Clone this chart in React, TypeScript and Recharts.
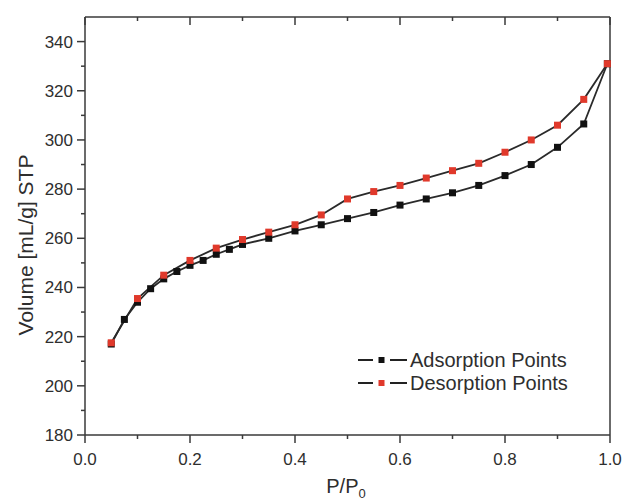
import { LineChart, Line, XAxis, YAxis, Label } from "recharts";

const adsP = [0.05, 0.075, 0.1, 0.125, 0.15, 0.175, 0.2, 0.225, 0.25, 0.275, 0.3, 0.35, 0.4, 0.45, 0.5, 0.55, 0.6, 0.65, 0.7, 0.75, 0.8, 0.85, 0.9, 0.95, 0.995];
const adsV = [217, 227, 234, 239.5, 243.5, 246.5, 249, 251, 253.5, 255.5, 257.5, 260, 263, 265.5, 268, 270.5, 273.5, 276, 278.5, 281.5, 285.5, 290, 297, 306.5, 331];
const desP = [0.995, 0.95, 0.9, 0.85, 0.8, 0.75, 0.7, 0.65, 0.6, 0.55, 0.5, 0.45, 0.4, 0.35, 0.3, 0.25, 0.2, 0.15, 0.1, 0.05];
const desV = [331, 316.5, 306, 300, 295, 290.5, 287.5, 284.5, 281.5, 279, 276, 269.5, 265.5, 262.5, 259.5, 256, 251, 245, 235.5, 217.5];

const xTicks = [0, 0.1, 0.2, 0.3, 0.4, 0.5, 0.6, 0.7, 0.8, 0.9, 1.0];
const yTicks = [180, 190, 200, 210, 220, 230, 240, 250, 260, 270, 280, 290, 300, 310, 320, 330, 340];

const seriesNames = ["Adsorption Points", "Desorption Points"];

const adsData = adsP.map((p, i) => ({ p, v: adsV[i] }));
const desData = desP.map((p, i) => ({ p, v: desV[i] }));

const AXIS = "#3a3a3a";
const TEXT = "#2e2e2e";
const FONT = "'Liberation Sans', Arial, sans-serif";
const COLORS = ["#111", "#e0392b"];

const isMajorX = (v: number) => Math.round(v * 10) % 2 === 0;
const isMajorY = (v: number) => v % 20 === 0;

function BottomTick({ x, y, payload }: any) {
  const major = isMajorX(payload.value);
  return (
    <g>
      <line x1={x} x2={x} y1={y} y2={y + (major ? 8 : 4)} stroke={AXIS} strokeWidth={1.5} />
      {major && (
        <text x={x} y={y + 30} textAnchor="middle" fontSize={17} fill={TEXT} fontFamily={FONT}>
          {payload.value.toFixed(1)}
        </text>
      )}
    </g>
  );
}

function TopTick({ x, y, payload }: any) {
  const major = isMajorX(payload.value);
  return <line x1={x} x2={x} y1={y} y2={y + (major ? 8 : 4)} stroke={AXIS} strokeWidth={1.5} />;
}

function LeftTick({ x, y, payload }: any) {
  const major = isMajorY(payload.value);
  return (
    <g>
      <line x1={x} x2={x - (major ? 8 : 4)} y1={y} y2={y} stroke={AXIS} strokeWidth={1.5} />
      {major && (
        <text x={x - 12} y={y + 6} textAnchor="end" fontSize={17} fill={TEXT} fontFamily={FONT}>
          {payload.value}
        </text>
      )}
    </g>
  );
}

function RightTick({ x, y, payload }: any) {
  const major = isMajorY(payload.value);
  return <line x1={x} x2={x - (major ? 8 : 4)} y1={y} y2={y} stroke={AXIS} strokeWidth={1.5} />;
}

function SquareDot({ cx, cy, fill }: any) {
  if (cx == null || cy == null) return null;
  return <rect x={cx - 3.5} y={cy - 3.5} width={7} height={7} fill={fill} />;
}

// legend drawn by hand, sits inside the plot at the lower right
function LegendBox() {
  return (
    <svg width={240} height={60} style={{ position: "absolute", left: 356, top: 346 }}>
      {seriesNames.map((name, i) => {
        const cy = 14 + i * 23;
        return (
          <g key={name}>
            <line x1={2} x2={17} y1={cy} y2={cy} stroke="#222" strokeWidth={2} />
            <line x1={34} x2={51} y1={cy} y2={cy} stroke="#222" strokeWidth={2} />
            <rect x={22.5} y={cy - 3} width={6} height={6} fill={COLORS[i]} />
            <text x={54} y={cy + 7} fontSize={20} fill={TEXT} fontFamily={FONT}>
              {name}
            </text>
          </g>
        );
      })}
    </svg>
  );
}

export default function App() {
  return (
    <div style={{ position: "absolute", left: 0, top: 0, width: 626, height: 501, background: "#fff", overflow: "hidden" }}>
      <LineChart width={626} height={501} data={adsData} margin={{ top: 0, right: 0, bottom: 0, left: 0 }}>
        <XAxis
          xAxisId="bottom"
          dataKey="p"
          type="number"
          domain={[0, 1]}
          ticks={xTicks}
          interval={0}
          height={66}
          tickSize={0}
          tickMargin={0}
          tickLine={false}
          tick={<BottomTick />}
          axisLine={{ stroke: AXIS, strokeWidth: 1.5 }}
        >
          <Label
            content={() => (
              <text x={346} y={493} textAnchor="middle" fontSize={20} fill={TEXT} fontFamily={FONT}>
                P/P<tspan fontSize={13} dy={5}>0</tspan>
              </text>
            )}
          />
        </XAxis>
        <XAxis
          xAxisId="top"
          orientation="top"
          dataKey="p"
          type="number"
          domain={[0, 1]}
          ticks={xTicks}
          interval={0}
          height={17}
          tickSize={0}
          tickMargin={0}
          tickLine={false}
          tick={<TopTick />}
          axisLine={{ stroke: AXIS, strokeWidth: 1.5 }}
        />
        <YAxis
          yAxisId="left"
          type="number"
          domain={[180, 350]}
          ticks={yTicks}
          interval={0}
          width={85}
          tickSize={0}
          tickMargin={0}
          tickLine={false}
          tick={<LeftTick />}
          axisLine={{ stroke: AXIS, strokeWidth: 1.5 }}
        >
          <Label
            content={() => (
              <text
                x={33}
                y={245}
                transform="rotate(-90 33 245)"
                textAnchor="middle"
                fontSize={21}
                fill={TEXT}
                fontFamily={FONT}
              >
                Volume [mL/g] STP
              </text>
            )}
          />
        </YAxis>
        <YAxis
          yAxisId="right"
          orientation="right"
          type="number"
          domain={[180, 350]}
          ticks={yTicks}
          interval={0}
          width={16}
          tickSize={0}
          tickMargin={0}
          tickLine={false}
          tick={<RightTick />}
          axisLine={{ stroke: AXIS, strokeWidth: 1.5 }}
        />
        <Line
          xAxisId="bottom"
          yAxisId="left"
          data={adsData}
          dataKey="v"
          name={seriesNames[0]}
          stroke="#2a2a2a"
          strokeWidth={1.8}
          dot={<SquareDot fill={COLORS[0]} />}
          activeDot={false}
          isAnimationActive={false}
        />
        <Line
          xAxisId="bottom"
          yAxisId="left"
          data={desData}
          dataKey="v"
          name={seriesNames[1]}
          stroke="#2a2a2a"
          strokeWidth={1.8}
          dot={<SquareDot fill={COLORS[1]} />}
          activeDot={false}
          isAnimationActive={false}
        />
      </LineChart>
      <LegendBox />
    </div>
  );
}
